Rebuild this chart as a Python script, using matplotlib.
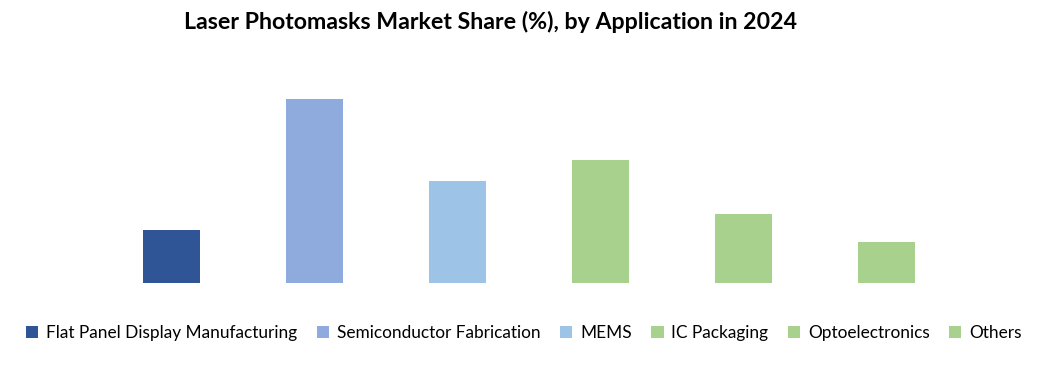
import matplotlib
matplotlib.use("Agg")
import matplotlib.pyplot as plt
from matplotlib.patches import Patch

categories = ["Flat Panel Display Manufacturing", "Semiconductor Fabrication", "MEMS",
              "IC Packaging", "Optoelectronics", "Others"]
values = [9.3, 32.2, 17.8, 21.5, 12.1, 7.2]
colors = ["#2F5597", "#8FAADC", "#9DC3E6", "#A9D18E", "#A9D18E", "#A9D18E"]

plt.rcParams['font.family'] = ['Lato', 'DejaVu Sans']

fig = plt.figure(figsize=(10.44, 3.74), dpi=100)
W, H = 1044, 374
left, right = 100, 958
bottom_px, top_px = 283, 83
ax = fig.add_axes([left / W, 1 - bottom_px / H, (right - left) / W, (bottom_px - top_px) / H])
x = list(range(len(categories)))
ax.bar(x, values, width=0.4, color=colors)
ax.set_xlim(-0.5, len(categories) - 0.5)
ax.set_ylim(0, 35)
ax.axis('off')

fig.text(491 / W, 1 - 22 / H, "Laser Photomasks Market Share (%), by Application in 2024",
         ha='center', va='center', fontsize=16.7, fontweight='bold')

handles = [Patch(facecolor=c, edgecolor='none') for c in colors]
fig.legend(handles, categories, loc='center', bbox_to_anchor=(524 / W, 1 - 333 / H),
           ncol=6, frameon=False, fontsize=12.4, handlelength=0.7, handleheight=0.7,
           handletextpad=0.45, columnspacing=1.15)

fig.savefig("out.png", dpi=100)
